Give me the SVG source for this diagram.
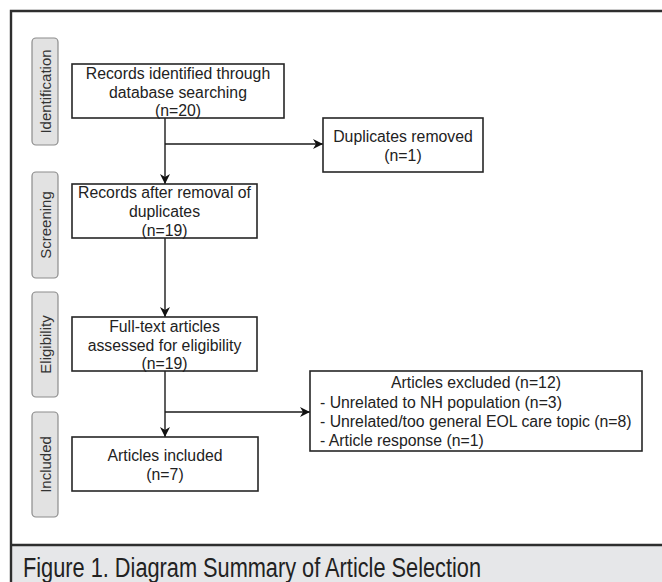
<svg xmlns="http://www.w3.org/2000/svg" width="662" height="582" viewBox="0 0 662 582">
<style>
  .lane{fill:#e2e2e2;stroke:#8c8c8c;stroke-width:1.2}
  .lt{font-family:"Liberation Sans",Arial,sans-serif;font-size:15px;fill:#333;text-anchor:middle}
  .box{fill:#fff;stroke:#262626;stroke-width:1.6}
  .t{font-family:"Liberation Sans",Arial,sans-serif;font-size:15.8px;fill:#222;text-anchor:middle}
  .tl{font-family:"Liberation Sans",Arial,sans-serif;font-size:15.8px;fill:#222}
  .edge{fill:none;stroke:#1a1a1a;stroke-width:1.4}
  .cap{font-family:"Liberation Sans",Arial,sans-serif;font-size:27px;fill:#222}
</style>
<defs>
  <marker id="arr" viewBox="0 0 10 10" refX="10" refY="5" markerWidth="10" markerHeight="10" markerUnits="userSpaceOnUse" orient="auto">
    <path d="M0,0 L10,5 L0,10 L3,5 z" fill="#111"/>
  </marker>
</defs>
<rect x="0" y="0" width="662" height="582" fill="#fff"/>
<rect x="11" y="545" width="651" height="37" fill="#e6e7e9"/>
<g id="frame" fill="none" stroke="#2e2e2e" stroke-width="2.4">
  <path d="M663,11 H11 V583"/>
  <path d="M11,545 H663"/>
</g>
<text class="cap" x="23" y="577" textLength="458" lengthAdjust="spacingAndGlyphs">Figure 1. Diagram Summary of Article Selection</text>

<g id="lane-identification">
  <rect class="lane" x="32" y="38" width="26" height="107" rx="4"/>
  <text class="lt" transform="translate(50.5,91.5) rotate(-90)">Identification</text>
</g>
<g id="lane-screening">
  <rect class="lane" x="32" y="172" width="26" height="106" rx="4"/>
  <text class="lt" transform="translate(50.5,225) rotate(-90)">Screening</text>
</g>
<g id="lane-eligibility">
  <rect class="lane" x="32" y="292" width="26" height="105" rx="4"/>
  <text class="lt" transform="translate(50.5,344.5) rotate(-90)">Eligibility</text>
</g>
<g id="lane-included">
  <rect class="lane" x="32" y="412" width="26" height="105" rx="4"/>
  <text class="lt" transform="translate(50.5,464.5) rotate(-90)">Included</text>
</g>

<g id="connectors">
  <path class="edge" d="M165,118 V184" marker-end="url(#arr)"/>
  <path class="edge" d="M165,144 H323" marker-end="url(#arr)"/>
  <path class="edge" d="M165,238 V317" marker-end="url(#arr)"/>
  <path class="edge" d="M165,371 V437" marker-end="url(#arr)"/>
  <path class="edge" d="M165,412 H310" marker-end="url(#arr)"/>
</g>

<g id="node-identified">
  <rect class="box" x="72" y="64" width="212" height="54"/>
  <text class="t" x="178" y="79">Records identified through</text>
  <text class="t" x="178" y="98">database searching</text>
  <text class="t" x="178" y="116">(n=20)</text>
</g>
<g id="node-duplicates">
  <rect class="box" x="323" y="118" width="160" height="54"/>
  <text class="t" x="403" y="142">Duplicates removed</text>
  <text class="t" x="403" y="161">(n=1)</text>
</g>
<g id="node-after-removal">
  <rect class="box" x="72" y="184" width="185" height="54"/>
  <text class="t" x="164.5" y="198">Records after removal of</text>
  <text class="t" x="164.5" y="217">duplicates</text>
  <text class="t" x="164.5" y="236">(n=19)</text>
</g>
<g id="node-fulltext">
  <rect class="box" x="72" y="317" width="185" height="54"/>
  <text class="t" x="164.5" y="332">Full-text articles</text>
  <text class="t" x="164.5" y="351">assessed for eligibility</text>
  <text class="t" x="164.5" y="369">(n=19)</text>
</g>
<g id="node-excluded">
  <rect class="box" x="310" y="371" width="332" height="80"/>
  <text class="t" x="476" y="388">Articles excluded (n=12)</text>
  <text class="tl" x="320" y="408">- Unrelated to NH population (n=3)</text>
  <text class="tl" x="320" y="427">- Unrelated/too general EOL care topic (n=8)</text>
  <text class="tl" x="320" y="446">- Article response (n=1)</text>
</g>
<g id="node-included">
  <rect class="box" x="72" y="437" width="186" height="54"/>
  <text class="t" x="165" y="461">Articles included</text>
  <text class="t" x="165" y="480">(n=7)</text>
</g>
</svg>
